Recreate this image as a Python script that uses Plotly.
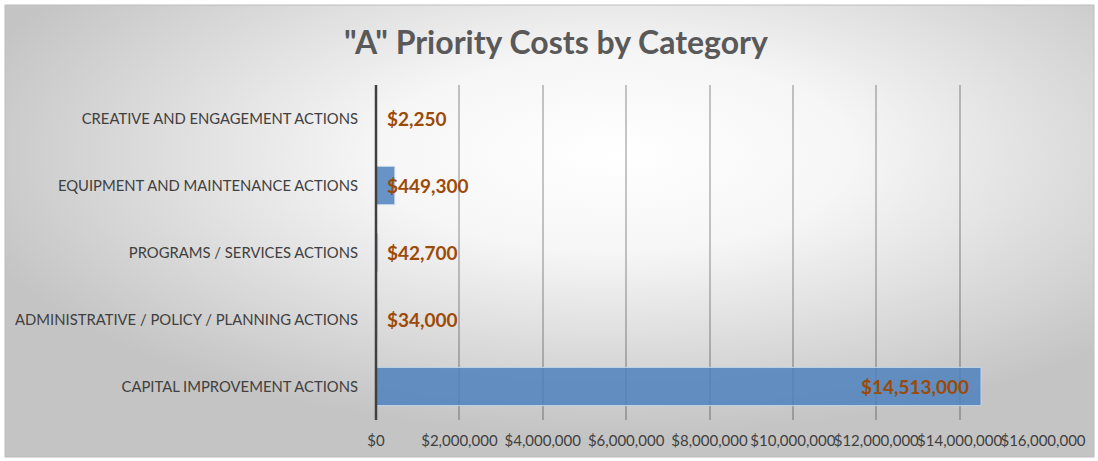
import base64
import plotly.graph_objects as go

categories = [
    "CAPITAL IMPROVEMENT ACTIONS",
    "ADMINISTRATIVE / POLICY / PLANNING ACTIONS",
    "PROGRAMS / SERVICES ACTIONS",
    "EQUIPMENT AND MAINTENANCE ACTIONS",
    "CREATIVE AND ENGAGEMENT ACTIONS",
]
costs = [14513000, 34000, 42700, 449300, 2250]
tick_values = [0, 2000000, 4000000, 6000000, 8000000, 10000000, 12000000, 14000000, 16000000]
tick_labels = ["$" + format(v, ",") for v in tick_values]
title_text = '"A" Priority Costs by Category'

W, H = 1098, 461
ML, MR, MT, MB = 376, 55, 85, 41
PW, PH = W - ML - MR, H - MT - MB

FONT = "Lato, 'Open Sans', sans-serif"
LABEL_COLOR = "#9C4A06"

# radial gradient background as svg image
svg = f'''<svg xmlns="http://www.w3.org/2000/svg" width="{W}" height="{H}" viewBox="0 0 {W} {H}">
<defs><radialGradient id="g" cx="0.56" cy="0.33" r="0.62" gradientUnits="objectBoundingBox">
<stop offset="0" stop-color="#ffffff"/><stop offset="0.35" stop-color="#f6f6f6"/><stop offset="1" stop-color="#c4c4c4"/>
</radialGradient></defs>
<rect x="0" y="0" width="{W}" height="{H}" fill="#ffffff"/>
<rect x="5" y="5" width="{W-9}" height="{H-9}" fill="url(#g)" stroke="#bdbdbd" stroke-width="1"/>
</svg>'''
src = "data:image/svg+xml;base64," + base64.b64encode(svg.encode()).decode()

def px_x(p):
    return (p - ML) / PW

def px_y(p):
    return (H - MB - p) / PH

fig = go.Figure()
fig.add_trace(go.Bar(
    y=categories, x=costs, orientation="h",
    marker=dict(color="rgba(79,129,189,0.85)", line=dict(color="rgba(200,215,235,0.9)", width=1)),
    width=0.57, hoverinfo="skip",
))

# data labels
max_v = max(costs)
for cat, v in zip(categories, costs):
    txt = "$" + format(v, ",")
    if v == max_v:
        fig.add_annotation(x=v, y=cat, text=f"<b>{txt}</b>", showarrow=False,
                           xanchor="right", xshift=-10,
                           font=dict(family=FONT, size=19, color=LABEL_COLOR))
    else:
        fig.add_annotation(x=0, y=cat, text=f"<b>{txt}</b>", showarrow=False,
                           xanchor="left", xshift=9,
                           font=dict(family=FONT, size=19, color=LABEL_COLOR))

fig.add_layout_image(dict(
    source=src, xref="paper", yref="paper",
    x=px_x(0), y=px_y(0), sizex=W / PW, sizey=H / PH,
    sizing="stretch", xanchor="left", yanchor="top", layer="below",
))

fig.update_layout(
    width=W, height=H,
    margin=dict(l=ML, r=MR, t=MT, b=MB),
    paper_bgcolor="white", plot_bgcolor="rgba(0,0,0,0)",
    showlegend=False,
    bargap=0.43,
    title=dict(text=f"<b>{title_text}</b>", x=556 / W, xanchor="center",
               y=1 - 43 / H, yanchor="middle",
               font=dict(family=FONT, size=32, color="#595959")),
    font=dict(family=FONT, color="#404040"),
    xaxis=dict(range=[0, 16000000], tickvals=tick_values, ticktext=tick_labels,
               tickangle=0, showgrid=True, gridcolor="rgba(0,0,0,0.22)", gridwidth=2,
               zeroline=False, showline=False, ticks="",
               ticklabelstandoff=10,
               tickfont=dict(family=FONT, size=15, color="#404040"),
               fixedrange=True),
    yaxis=dict(categoryorder="array", categoryarray=categories,
               showgrid=False, zeroline=False, showline=False, ticks="",
               ticklabelstandoff=17,
               tickfont=dict(family=FONT, size=14.8, color="#404040"),
               fixedrange=True),
)
# vertical axis line at zero
fig.add_shape(type="line", xref="paper", yref="paper", x0=0, x1=0, y0=0, y1=1,
              line=dict(color="#404040", width=2.5), layer="above")

fig.write_html("out.html", config={"displayModeBar": False},
               post_script="document.body.style.margin='0';document.body.style.overflow='hidden';")
